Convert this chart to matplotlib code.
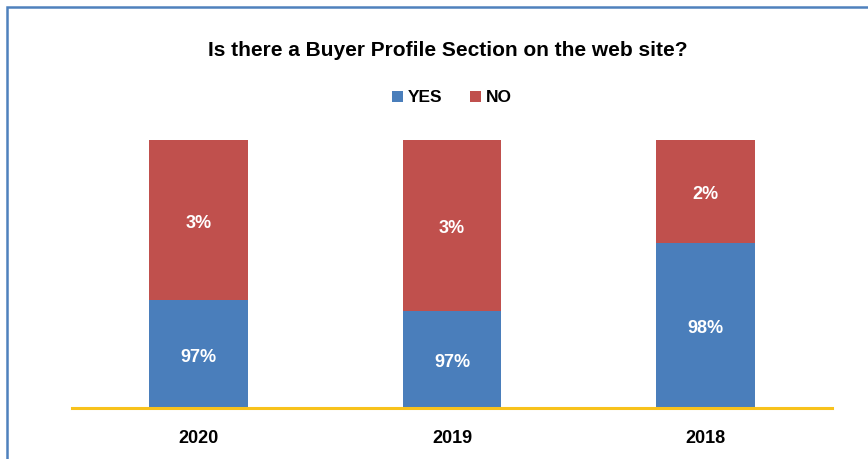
import matplotlib
matplotlib.use("Agg")
import matplotlib.pyplot as plt
from matplotlib.patches import Rectangle
from matplotlib.font_manager import fontManager

years = ["2020", "2019", "2018"]
# segment heights as drawn (share of the bar)
yes_height = [40.3, 36.2, 61.6]
no_height = [59.7, 63.8, 38.4]
# labels printed on the segments
yes_labels = ["97%", "97%", "98%"]
no_labels = ["3%", "3%", "2%"]

BLUE = "#4A7EBB"
RED = "#C0504D"
GOLD = "#F8C21C"

names = {f.name for f in fontManager.ttflist}
FONT = "Liberation Sans Narrow" if "Liberation Sans Narrow" in names else "Liberation Sans"
plt.rcParams["font.family"] = [FONT, "DejaVu Sans"]

fig = plt.figure(figsize=(8.68, 4.59), dpi=100)
ax = fig.add_axes([72 / 868, 1 - 408 / 459, 760 / 868, 268 / 459])

x = range(len(years))
ax.bar(x, yes_height, width=0.39, color=BLUE, label="YES")
ax.bar(x, no_height, width=0.39, bottom=yes_height, color=RED, label="NO")

# labels sit a touch below the segment centre
off = 1.2
for i in x:
    ax.text(i, yes_height[i] / 2 - off, yes_labels[i], ha="center", va="center",
            color="white", fontsize=13, fontweight="bold")
    ax.text(i, yes_height[i] + no_height[i] / 2 - off, no_labels[i], ha="center",
            va="center", color="white", fontsize=13, fontweight="bold")

ax.set_xlim(-0.5, 2.5)
ax.set_ylim(0, 100)
ax.set_yticks([])
ax.set_xticks(list(x))
ax.set_xticklabels(years, fontsize=13, fontweight="bold")
ax.tick_params(axis="x", length=0, pad=16)
for s in ["top", "right", "left"]:
    ax.spines[s].set_visible(False)
ax.spines["bottom"].set_color(GOLD)
ax.spines["bottom"].set_linewidth(2.2)

fig.text(448 / 868, 1 - 50 / 459, "Is there a Buyer Profile Section on the web site?",
         ha="center", va="center", fontsize=15, fontweight="bold")
fig.legend(loc="center", bbox_to_anchor=(452 / 868, 1 - 98 / 459), ncol=2,
           frameon=False, prop={"weight": "bold", "size": 12.5},
           handlelength=0.6, handleheight=0.6, handletextpad=0.3, columnspacing=1.6)

# outer frame, cut off at the right and bottom
fig.patches.append(Rectangle((7 / 868, -0.1), 1.0, 1 - 7 / 459 + 0.1,
                             transform=fig.transFigure, fill=False,
                             edgecolor="#4F81BD", linewidth=1.8))

fig.savefig("out.png", dpi=100)
